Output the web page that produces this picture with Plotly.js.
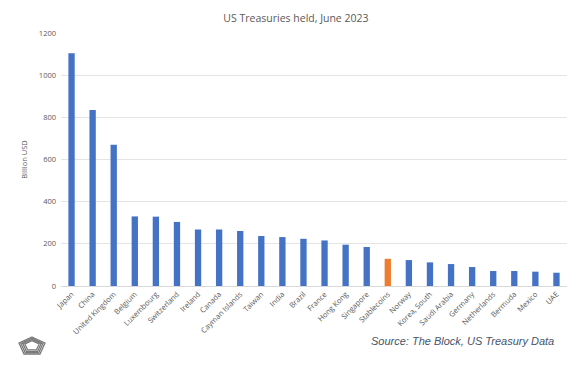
<!DOCTYPE html>
<html>
<head>
<meta charset="utf-8">
<script src="https://cdn.plot.ly/plotly-3.0.1.min.js"></script>
<style>html,body{margin:0;padding:0;background:#fff;}#chart{width:586px;height:367px;}</style>
</head>
<body>
<div id="chart"></div>
<script>
const categories = ["Japan","China","United Kingdom","Belgium","Luxembourg","Switzerland","Ireland","Canada","Cayman Islands","Taiwan","India","Brazil","France","Hong Kong","Singapore","Stablecoins","Norway","Korea, South","Saudi Arabia","Germany","Netherlands","Bermuda","Mexico","UAE"];
const values = [1104,835,670,330,329,304,268,268,261,237,232,224,216,196,185,129,123,112,104,90,71,71,68,63];
const highlight = "Stablecoins";
const yTicks = [0,200,400,600,800,1000,1200];

const colors = categories.map(c => c === highlight ? "#ED7D31" : "#4472C4");

const W = 586, H = 367, L = 61, R = 19, T = 33, B = 81;
const pw = W - L - R, ph = H - T - B;
function px(x){ return (x - L) / pw; }
function py(y){ return (H - B - y) / ph; }
function pent(cx, cy, s){
  const pts = [[0,-8],[13,-2],[8,9],[-8,9],[-13,-2]];
  return "M" + pts.map(p => px(cx + p[0]*s).toFixed(4) + "," + py(cy + p[1]*s).toFixed(4)).join("L") + "Z";
}
const logoShapes = [1, 0.85, 0.7, 0.55].map(s => ({
  type: "path", xref: "paper", yref: "paper", path: pent(32, 345, s),
  line: {color: "#7a7a7a", width: 1.3}
}));

Plotly.newPlot("chart", [{
  type: "bar", x: categories, y: values,
  marker: {color: colors},
  hoverinfo: "x+y"
}], {
  width: W, height: H,
  margin: {l: L, r: R, t: T, b: B, pad: 0},
  paper_bgcolor: "#fff", plot_bgcolor: "#fff",
  bargap: 0.7,
  showlegend: false,
  font: {family: "Open Sans, Liberation Sans, sans-serif", color: "#595959", size: 7},
  title: {text: "US Treasuries held, June 2023", x: 0.505, xanchor: "center", y: 0.95, yanchor: "middle",
          font: {size: 10.5, color: "#595959", family: "Open Sans, sans-serif"}},
  xaxis: {tickangle: -45, tickfont: {size: 7.5, color: "#595959"}, showline: true, linecolor: "#D9D9D9", linewidth: 1,
          ticks: "", automargin: false},
  yaxis: {range: [0, 1200], tickvals: yTicks, showgrid: true, gridcolor: "#E4E4E4", gridwidth: 1,
          zeroline: false, tickfont: {size: 7.5, color: "#595959"}, ticks: "", ticklabelstandoff: 4,
          title: {text: "Billion USD", font: {size: 7.5, color: "#595959"}, standoff: 10}, automargin: false},
  annotations: [{
    xref: "paper", yref: "paper", x: px(556), y: py(341), xanchor: "right", yanchor: "middle",
    text: "<i>Source: The Block, US Treasury Data</i>", showarrow: false,
    font: {family: "Liberation Sans, Arial, sans-serif", size: 11, color: "#44546A"}
  }],
  shapes: logoShapes
}, {displayModeBar: false, staticPlot: true});
</script>
</body>
</html>
